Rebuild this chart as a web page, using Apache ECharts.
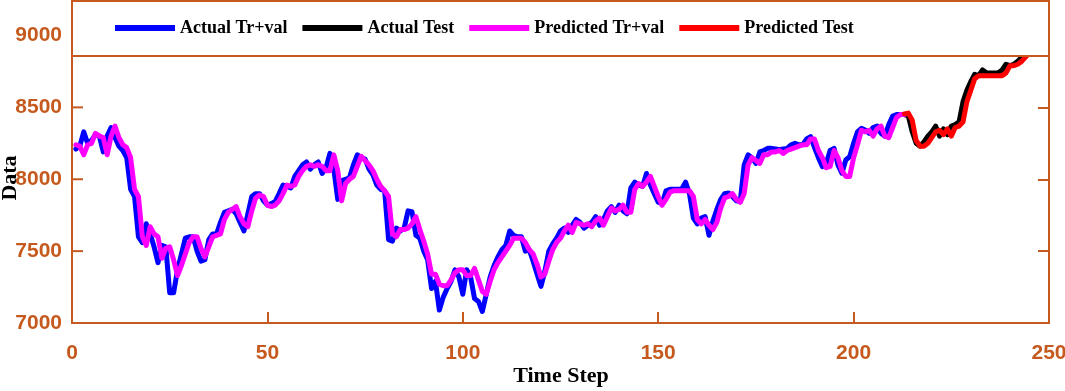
<!DOCTYPE html>
<html>
<head>
<meta charset="utf-8">
<script src="https://cdn.jsdelivr.net/npm/echarts@6.0.0/dist/echarts.min.js"></script>
<style>
  html, body { margin: 0; padding: 0; background: #fff; }
  #main { width: 1065px; height: 391px; }
</style>
</head>
<body>
<div id="main"></div>
<script>
// time steps 1..213 (training + validation)
const actualTrain = [
  8210, 8230, 8330, 8250, 8270, 8310, 8300, 8190, 8300, 8360,
  8290, 8230, 8200, 8150, 7930, 7880, 7600, 7560, 7690, 7620,
  7530, 7420, 7540, 7530, 7210, 7210, 7370, 7480, 7590, 7600,
  7600, 7500, 7430, 7440, 7580, 7620, 7620, 7700, 7770, 7780,
  7790, 7760, 7700, 7640, 7760, 7880, 7900, 7900, 7850, 7820,
  7830, 7845, 7900, 7960, 7950, 7940, 8020, 8060, 8100, 8120,
  8070, 8100, 8120, 8040, 8080, 8180, 8070, 7860, 7990, 8000,
  8010, 8100, 8170, 8150, 8140, 8070, 8030, 7960, 7930, 7920,
  7580, 7570, 7660, 7640, 7660, 7780, 7775, 7610, 7590, 7500,
  7440, 7240, 7290, 7090, 7180, 7240, 7290, 7370, 7320, 7200,
  7370, 7320, 7170, 7150, 7080, 7200, 7320, 7400, 7460, 7510,
  7540, 7640, 7610, 7600, 7600, 7500, 7510, 7430, 7340, 7255,
  7360, 7500, 7550, 7590, 7640, 7660, 7630, 7680, 7720, 7700,
  7660, 7680, 7700, 7740, 7680, 7720, 7780, 7810, 7770, 7820,
  7780, 7760, 7940, 7980, 7960, 7950, 8040, 7960, 7900, 7840,
  7830, 7920, 7930, 7930, 7930, 7930, 7980, 7900, 7730, 7690,
  7730, 7740, 7610, 7710, 7790, 7860, 7900, 7905, 7880, 7850,
  7845, 8100, 8170, 8150, 8110, 8190, 8200, 8215, 8215, 8210,
  8205, 8210, 8215, 8240, 8250, 8240, 8240, 8280, 8296, 8220,
  8150, 8088, 8111, 8200, 8215, 8100, 8042, 8134, 8157, 8250,
  8330, 8354, 8343, 8320, 8360, 8370, 8320, 8300, 8380, 8440,
  8450, 8450, 8450
];
const predTrain = [
  8240, 8230, 8170, 8240, 8250, 8320, 8300, 8290, 8170, 8300,
  8370, 8290, 8240, 8220, 8150, 7930, 7880, 7600, 7540, 7670,
  7620, 7600, 7450, 7520, 7530, 7440, 7330, 7400, 7480, 7560,
  7600, 7600, 7520, 7460, 7530, 7600, 7610, 7620, 7720, 7770,
  7790, 7810, 7740, 7690, 7670, 7780, 7870, 7890, 7880, 7820,
  7810, 7820, 7850, 7900, 7960, 7950, 7960, 8020, 8060, 8090,
  8100, 8090, 8100, 8090, 8060, 8060, 8170, 8060, 7850, 7970,
  8000, 8020, 8090, 8160, 8130, 8100, 8060, 8000, 7950, 7920,
  7880, 7620, 7600, 7650, 7650, 7660, 7690, 7740, 7650, 7570,
  7480, 7340, 7340, 7270, 7260, 7260, 7300, 7350, 7370, 7370,
  7330, 7330, 7380, 7300, 7220, 7200, 7290, 7370, 7420, 7460,
  7500, 7540, 7590, 7590, 7590, 7560, 7510, 7480, 7410, 7320,
  7340, 7430, 7510, 7560, 7590, 7640, 7680, 7630, 7700, 7690,
  7680, 7690, 7670, 7710, 7730, 7680, 7740, 7800, 7780, 7790,
  7820, 7770, 7770, 7930, 7970, 7950, 7980, 8020, 7950, 7880,
  7820, 7860, 7910, 7920, 7920, 7920, 7920, 7920, 7880, 7720,
  7690, 7720, 7680, 7650, 7700, 7800, 7870, 7880, 7900, 7860,
  7840, 7900, 8100, 8150, 8130, 8110, 8170, 8170, 8190, 8190,
  8200, 8180, 8200, 8210, 8220, 8230, 8240, 8240, 8280, 8280,
  8200, 8150, 8080, 8090, 8200, 8150, 8060, 8020, 8020, 8150,
  8240, 8340, 8330, 8340, 8300, 8350, 8370, 8300, 8290, 8360,
  8430, 8450, 8450
];
// time steps 213..245 (test)
const actualTest = [
  8450, 8440, 8330, 8250, 8230, 8260, 8300, 8330, 8370, 8300,
  8350, 8310, 8370, 8380, 8400, 8540, 8620, 8680, 8730, 8720,
  8760, 8740, 8740, 8740, 8740, 8760, 8800, 8790, 8800, 8820,
  8850, 8880, 8900
];
const predTest = [
  8455, 8460, 8410, 8270, 8230, 8230, 8250, 8290, 8330, 8340,
  8310, 8350, 8300, 8360, 8370, 8400, 8540, 8620, 8700, 8720,
  8720, 8720, 8720, 8720, 8720, 8720, 8740, 8790, 8790, 8800,
  8820, 8850, 8880
];
const trainStart = 1;
const testStart = 213;
const legendNames = ['Actual Tr+val', 'Actual Test', 'Predicted Tr+val', 'Predicted Test'];
const xTicks = { min: 0, max: 250, step: 50 };
const yTicks = { min: 7000, max: 9240, step: 500 };
const yTickValues = [7000, 7500, 8000, 8500, 9000];

const axisColor = '#C65A1E';
const withSteps = (arr, start) => arr.map((v, i) => [start + i, v]);

const dom = document.getElementById('main');
const chart = echarts.init(dom);

const lineSeries = (name, data, color) => ({
  name: name,
  type: 'line',
  data: data,
  showSymbol: false,
  symbol: 'none',
  lineStyle: { color: color, width: 5, join: 'round', cap: 'round' },
  itemStyle: { color: color },
  emphasis: { disabled: true },
  animation: false
});

const tickFont = () => ({
  color: axisColor,
  fontFamily: '"Liberation Sans", Arial, sans-serif',
  fontWeight: 'bold',
  fontSize: 21,
  formatter: v => String(v)
});
const tickLen = 11;
const innerTick = () => ({ show: true, inside: true, length: tickLen, lineStyle: { color: axisColor, width: 2 } });
const axisLine = () => ({ show: true, onZero: false, lineStyle: { color: axisColor, width: 2 } });
const titleFont = 'bold 22px "Liberation Serif", "Times New Roman", serif';

const option = {
  backgroundColor: '#fff',
  grid: { left: 72, right: 16, top: 1, bottom: 68, containLabel: false, outerBoundsMode: 'none' },
  legend: {
    data: legendNames,
    left: 115,
    top: 19,
    padding: 0,
    itemGap: 15,
    itemWidth: 60,
    itemHeight: 6,
    icon: 'rect',
    z: 20,
    textStyle: {
      fontFamily: '"Liberation Serif", "Times New Roman", serif',
      fontWeight: 'bold',
      fontSize: 18,
      color: '#000'
    }
  },
  graphic: [{
    id: 'legendBox',
    type: 'rect',
    z: 15,
    shape: { x: 72, y: 1, width: 977, height: 55 },
    style: { fill: '#fff', stroke: axisColor, lineWidth: 2 }
  }, {
    id: 'xTitle',
    type: 'text',
    x: 561,
    y: 376,
    style: { text: 'Time Step', font: titleFont, fill: '#000', align: 'center', verticalAlign: 'middle' }
  }, {
    id: 'yTitle',
    type: 'text',
    x: 10,
    y: 178,
    rotation: Math.PI / 2,
    style: { text: 'Data', font: titleFont, fill: '#000', align: 'center', verticalAlign: 'middle' }
  }],
  xAxis: [{
    type: 'value',
    min: xTicks.min,
    max: xTicks.max,
    interval: xTicks.step,
    axisLine: axisLine(),
    axisTick: innerTick(),
    axisLabel: Object.assign({ margin: 20 }, tickFont()),
    splitLine: { show: false }
  }, {
    type: 'value',
    position: 'top',
    min: xTicks.min,
    max: xTicks.max,
    interval: xTicks.step,
    axisLine: axisLine(),
    axisTick: { show: false },
    axisLabel: { show: false },
    splitLine: { show: false }
  }],
  yAxis: [{
    type: 'value',
    position: 'left',
    min: yTicks.min,
    max: yTicks.max,
    interval: yTicks.step,
    axisLine: axisLine(),
    axisTick: { show: false },
    axisLabel: Object.assign({ margin: 10, showMaxLabel: false }, tickFont()),
    splitLine: { show: false }
  }, {
    type: 'value',
    position: 'right',
    min: yTicks.min,
    max: yTicks.max,
    interval: yTicks.step,
    axisLine: axisLine(),
    axisTick: innerTick(),
    axisLabel: { show: false },
    splitLine: { show: false }
  }],
  series: [
    lineSeries(legendNames[0], withSteps(actualTrain, trainStart), '#0000FF'),
    lineSeries(legendNames[1], withSteps(actualTest, testStart), '#000000'),
    lineSeries(legendNames[2], withSteps(predTrain, trainStart), '#FF00FF'),
    lineSeries(legendNames[3], withSteps(predTest, testStart), '#FF0000')
  ]
};

chart.setOption(option);

// left-hand ticks pointing into the plot, placed through the axes' own scales
const leftX = chart.convertToPixel({ xAxisIndex: 0 }, xTicks.min);
chart.setOption({
  graphic: yTickValues.map((v, i) => {
    const y = chart.convertToPixel({ yAxisIndex: 0 }, v);
    return {
      id: 'leftTick' + i,
      type: 'line',
      z: 5,
      shape: { x1: leftX, y1: y, x2: leftX + tickLen, y2: y },
      style: { stroke: axisColor, lineWidth: 2 }
    };
  })
});
</script>
</body>
</html>
